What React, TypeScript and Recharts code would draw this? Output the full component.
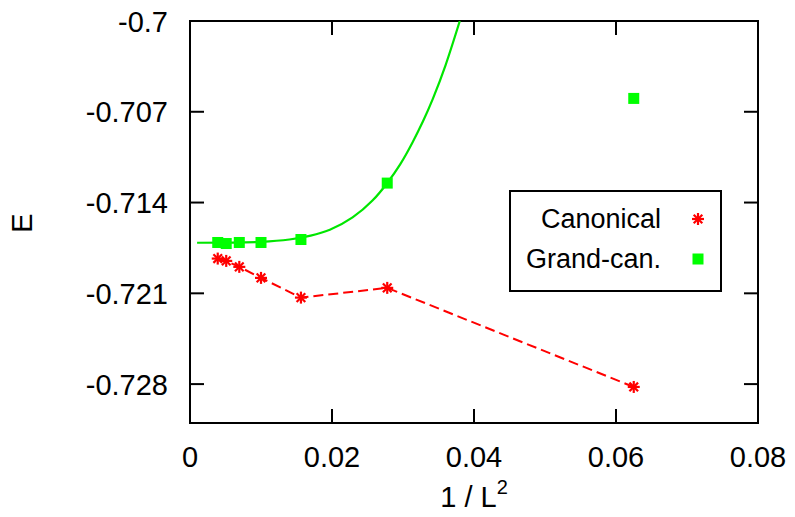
import { ComposedChart, Legend, Line, ReferenceArea, Scatter, XAxis, YAxis } from 'recharts'

// 1/L^2 for L = 4, 6, 8, 10, 12, 14, 16
const invL2 = [0.0625, 0.02778, 0.015625, 0.01, 0.006944, 0.005102, 0.003906]
const canonicalE = [-0.72822, -0.72058, -0.72133, -0.71981, -0.71896, -0.7185, -0.71832]
const grandCanE = [-0.70597, -0.7125, -0.71685, -0.71708, -0.71708, -0.71716, -0.71708]

// fitted curve through the grand-canonical points
const fitX = [0.001, 0.006, 0.01, 0.014, 0.017, 0.0197, 0.0229, 0.0257, 0.0277, 0.0296, 0.0313, 0.0328, 0.0342, 0.036, 0.038]
const fitE = [-0.7171, -0.71709, -0.71703, -0.71685, -0.71655, -0.7161, -0.71515, -0.71385, -0.71255, -0.71105, -0.7094, -0.70775, -0.706, -0.7034, -0.7]

const xTicks = [0, 0.02, 0.04, 0.06, 0.08]
const yTicks = [-0.728, -0.721, -0.714, -0.707, -0.7]
const xDomain = [0, 0.08]
const yDomain = [-0.731, -0.7]

const canonical = invL2.map((x, i) => ({ x, y: canonicalE[i] }))
const grandCan = invL2.map((x, i) => ({ x, y: grandCanE[i] }))
const fit = fitX.map((x, i) => ({ x, y: fitE[i] }))

const FONT = '"Liberation Sans", Arial, Helvetica, sans-serif'
const RED = '#ff0000'
const GREEN = '#00ff00'
const PLOT = { left: 190, right: 758, top: 21, bottom: 423 }
const TICK_LEN = 14

function Star({ cx, cy }: { cx?: number; cy?: number }) {
  if (cx == null || cy == null) return null
  const r = 6
  const d = r * 0.72
  return (
    <g stroke={RED} strokeWidth={2.2}>
      <line x1={cx - r} x2={cx + r} y1={cy} y2={cy} />
      <line x1={cx} x2={cx} y1={cy - r} y2={cy + r} />
      <line x1={cx - d} x2={cx + d} y1={cy - d} y2={cy + d} />
      <line x1={cx - d} x2={cx + d} y1={cy + d} y2={cy - d} />
    </g>
  )
}

function Square({ cx, cy }: { cx?: number; cy?: number }) {
  if (cx == null || cy == null) return null
  return <rect x={cx - 5.5} y={cy - 5.5} width={11} height={11} fill={GREEN} />
}

function XTick({ x, payload }: any) {
  return (
    <g>
      <line x1={x} x2={x} y1={PLOT.bottom} y2={PLOT.bottom - TICK_LEN} stroke="#000" strokeWidth={2} />
      <line x1={x} x2={x} y1={PLOT.top} y2={PLOT.top + TICK_LEN} stroke="#000" strokeWidth={2} />
      <text x={x} y={467} textAnchor="middle" fontSize={29} fontFamily={FONT} fill="#000">
        {String(payload.value)}
      </text>
    </g>
  )
}

function YTick({ y, payload }: any) {
  return (
    <g>
      <line x1={PLOT.left} x2={PLOT.left + TICK_LEN} y1={y} y2={y} stroke="#000" strokeWidth={2} />
      <line x1={PLOT.right} x2={PLOT.right - TICK_LEN} y1={y} y2={y} stroke="#000" strokeWidth={2} />
      <text x={168} y={y + 10.5} textAnchor="end" fontSize={29} fontFamily={FONT} fill="#000">
        {String(payload.value)}
      </text>
    </g>
  )
}

function LegendBox() {
  return (
    <svg width={213} height={102} style={{ display: 'block' }}>
      <rect x={1} y={1} width={211} height={100} fill="#fff" stroke="#000" strokeWidth={2} />
      <text x={152} y={38} textAnchor="end" fontSize={27} fontFamily={FONT} fill="#000">Canonical</text>
      <Star cx={189} cy={29} />
      <text x={152} y={78} textAnchor="end" fontSize={27} fontFamily={FONT} fill="#000">Grand-can.</text>
      <Square cx={189} cy={69} />
    </svg>
  )
}

export default function App() {
  return (
    <div style={{ position: 'absolute', left: 0, top: 0, width: 795, height: 517, background: '#fff' }}>
      <ComposedChart
        width={795}
        height={517}
        margin={{ top: PLOT.top, right: 795 - PLOT.right, bottom: 0, left: 0 }}
      >
        <XAxis
          type="number"
          dataKey="x"
          domain={xDomain}
          ticks={xTicks}
          allowDataOverflow
          height={517 - PLOT.bottom}
          axisLine={false}
          tickLine={false}
          tick={<XTick />}
          label={{
            content: () => (
              <text x={474} y={507} textAnchor="middle" fontSize={29} fontFamily={FONT} fill="#000">
                1 / L<tspan fontSize={20} dy={-13}>2</tspan>
              </text>
            ),
          }}
        />
        <YAxis
          type="number"
          dataKey="y"
          domain={yDomain}
          ticks={yTicks}
          allowDataOverflow
          width={PLOT.left}
          axisLine={false}
          tickLine={false}
          tick={<YTick />}
          label={{
            content: () => (
              <text
                x={32}
                y={223}
                transform="rotate(-90 32 223)"
                textAnchor="middle"
                fontSize={29}
                fontFamily={FONT}
                fill="#000"
              >
                E
              </text>
            ),
          }}
        />
        <Line
          data={fit}
          dataKey="y"
          type="natural"
          stroke="#00e600"
          strokeWidth={2.2}
          dot={false}
          activeDot={false}
          isAnimationActive={false}
        />
        <Scatter
          data={canonical}
          dataKey="y"
          shape={<Star />}
          line={{ stroke: RED, strokeWidth: 2, strokeDasharray: '10 5' }}
          lineType="joint"
          isAnimationActive={false}
        />
        <Scatter data={grandCan} dataKey="y" shape={<Square />} isAnimationActive={false} />
        <ReferenceArea
          x1={xDomain[0]}
          x2={xDomain[1]}
          y1={yDomain[0]}
          y2={yDomain[1]}
          fill="none"
          stroke="#000"
          strokeWidth={2}
          fillOpacity={0}
        />
        <Legend
          layout="vertical"
          align="center"
          verticalAlign="middle"
          wrapperStyle={{ left: 509, top: 190, width: 213, height: 102 }}
          content={() => <LegendBox />}
        />
      </ComposedChart>
    </div>
  )
}
